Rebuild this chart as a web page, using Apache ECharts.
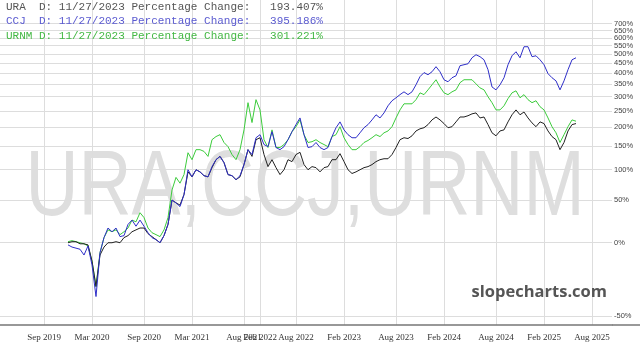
<!DOCTYPE html>
<html>
<head>
<meta charset="utf-8">
<script src="https://cdn.jsdelivr.net/npm/echarts@6/dist/echarts.min.js"></script>
<style>
  html, body { margin: 0; padding: 0; background: #fff; }
  #chart { width: 640px; height: 354px; }
</style>
</head>
<body>
<div id="chart"></div>
<script>
(function(){

  // x axis: one slot per ~2 weeks, first data point sits at slot 17
  var slotCount = 154;
  var firstSlot = 17;
  var tickIndex = [11, 23, 36, 48, 61, 65, 74, 86, 99, 111, 124, 136, 148];
  var tickLabels = ['Sep 2019', 'Mar 2020', 'Sep 2020', 'Mar 2021', 'Aug 2021', 'Feb 2022', 'Aug 2022',
                    'Feb 2023', 'Aug 2023', 'Feb 2024', 'Aug 2024', 'Feb 2025', 'Aug 2025'];

  // y axis tick labels (percentage change, log scale)
  var yTicks = [-50, 0, 50, 100, 150, 200, 250, 300, 350, 400, 450, 500, 550, 600, 650, 700];
  // the 650% label sits too close to 700% for echarts' overlap check, so it goes on a twin axis
  var yTicksTight = [650];

  // percentage change
  var ura = [0,1,1,-1,-1,-2,-16,-34,-11,-4,
    0,0,1,0,5,7,11,13,15,15,
    9,6,3,0,7,19,50,46,43,58,
    96,87,100,96,89,87,104,120,127,114,
    91,89,82,87,110,142,127,166,171,131,
    106,120,104,91,100,120,116,131,136,110,
    100,106,104,96,104,106,120,120,133,116,
    100,93,96,100,104,106,110,116,120,122,
    122,131,147,166,171,169,176,189,195,198,
    207,221,230,221,210,198,201,215,230,230,
    234,240,243,227,230,207,184,176,189,192,
    215,237,253,237,246,227,212,201,215,210,
    189,174,166,142,159,189,207,210];

  var ccj = [-2,-4,-5,-6,-11,-3,-19,-40,-9,5,
    15,11,15,6,7,19,24,17,24,17,
    10,5,3,0,7,19,50,46,41,58,
    100,87,100,96,89,87,106,120,127,114,
    91,89,82,89,110,142,131,171,179,154,
    149,187,147,142,149,166,187,207,227,179,
    147,149,159,147,142,147,174,198,215,192,
    179,171,171,184,198,207,221,237,227,243,
    267,285,296,308,319,308,319,348,384,403,
    393,407,432,407,370,361,379,388,437,442,
    447,479,496,485,468,417,339,327,348,379,
    442,490,513,479,543,543,485,490,468,442,
    398,379,365,327,365,417,468,479];

  var urnm = [1,2,1,0,-1,-3,-16,-34,-9,5,
    13,11,13,8,11,15,24,22,33,27,
    15,10,8,6,13,27,65,86,76,91,
    135,120,142,142,138,127,166,174,179,159,
    149,131,120,142,192,278,213,289,253,166,
    147,192,147,147,154,166,187,201,221,179,
    159,161,166,159,154,149,174,179,201,171,
    154,142,142,149,159,164,171,179,174,184,
    189,201,227,253,274,274,274,289,315,308,
    327,348,370,339,315,308,319,327,357,370,
    370,370,352,335,327,300,278,253,253,267,
    293,315,323,296,308,289,278,285,264,253,
    227,201,184,159,179,201,221,217];

  // percent -> log2 of growth factor, so the value axis behaves like the log scale
  function toLog(p) { return Math.log2(1 + p / 100); }
  function fromLog(v) { return Math.round((Math.pow(2, v) - 1) * 100); }
  function place(arr) {
    var out = [];
    for (var i = 0; i < slotCount; i++) {
      var k = i - firstSlot;
      out.push(k >= 0 && k < arr.length ? toLog(arr[k]) : '-');
    }
    return out;
  }

  var slots = [];
  for (var i = 0; i < slotCount; i++) slots.push(String(i));

  var isTick = function(index) { return tickIndex.indexOf(index) >= 0; };

  var myChart = echarts.init(document.getElementById('chart'));

  var monoStyle = function(color) {
    return { fontFamily: 'Liberation Mono', fontSize: 11, fontWeight: 'normal', color: color };
  };

  var yLabelStyle = function(values) {
    return {
      customValues: values.map(toLog),
      hideOverlap: false,
      showMinLabel: true,
      showMaxLabel: true,
      formatter: function(v) { return fromLog(v) + '%'; },
      fontFamily: 'Liberation Sans',
      fontSize: 7.5,
      color: '#444444',
      margin: 2
    };
  };

  var yMin = toLog(-54.2);
  var yMax = toLog(902);

  var option = {
    animation: false,
    backgroundColor: '#fff',
    title: [
      { text: 'URA  D: 11/27/2023 Percentage Change:   193.407%', left: 6, top: 2, padding: 0, textStyle: monoStyle('#555555') },
      { text: 'CCJ  D: 11/27/2023 Percentage Change:   395.186%', left: 6, top: 16, padding: 0, textStyle: monoStyle('#5a5ad0') },
      { text: 'URNM D: 11/27/2023 Percentage Change:   301.221%', left: 6, top: 31, padding: 0, textStyle: monoStyle('#44b844') }
    ],
    grid: { left: 0, right: 28, top: 0, bottom: 29, containLabel: false },
    graphic: [
      {
        type: 'text', x: 305, y: 189, z: -1, silent: true, scaleX: 0.79,
        style: { text: 'URA,CCJ,URNM', fontFamily: 'Liberation Sans', fontSize: 93,
                 fill: '#dedede', align: 'center', verticalAlign: 'middle' }
      },
      {
        type: 'text', x: 607, y: 292, z: 10, silent: true,
        style: { text: 'slopecharts.com', fontFamily: 'Open Sans', fontWeight: 'bold', fontSize: 16.5,
                 fill: '#555555', align: 'right', verticalAlign: 'middle' }
      },
      {
        type: 'line', silent: true, z: 5,
        shape: { x1: 612, y1: 325, x2: 640, y2: 325 },
        style: { stroke: '#777777', lineWidth: 1.5 }
      }
    ],
    xAxis: {
      type: 'category',
      data: slots,
      boundaryGap: false,
      axisLine: { show: true, onZero: false, lineStyle: { color: '#777777', width: 1.5 } },
      axisTick: { show: false },
      axisLabel: {
        interval: isTick,
        formatter: function(val, index) {
          var k = tickIndex.indexOf(index);
          return k >= 0 ? tickLabels[k] : '';
        },
        fontFamily: 'Liberation Serif',
        fontSize: 9,
        color: '#333333',
        margin: 8
      },
      splitLine: { show: true, interval: isTick, lineStyle: { color: '#dddddd', width: 1 } }
    },
    yAxis: [
      {
        type: 'value',
        position: 'right',
        min: yMin,
        max: yMax,
        axisLine: { show: false },
        axisTick: { show: false, customValues: yTicks.map(toLog) },
        axisLabel: yLabelStyle(yTicks.filter(function(t) { return yTicksTight.indexOf(t) < 0; })),
        splitLine: { show: true, lineStyle: { color: '#dddddd', width: 1 } }
      },
      {
        type: 'value',
        position: 'right',
        min: yMin,
        max: yMax,
        axisLine: { show: false },
        axisTick: { show: false, customValues: yTicksTight.map(toLog) },
        axisLabel: yLabelStyle(yTicksTight),
        splitLine: { show: false }
      }
    ],
    series: [
      { name: 'URA', type: 'line', data: place(ura), showSymbol: false, symbol: 'none',
        lineStyle: { color: '#222222', width: 1 }, itemStyle: { color: '#222222' }, z: 3 },
      { name: 'CCJ', type: 'line', data: place(ccj), showSymbol: false, symbol: 'none',
        lineStyle: { color: '#2f2fc8', width: 1 }, itemStyle: { color: '#2f2fc8' }, z: 4 },
      { name: 'URNM', type: 'line', data: place(urnm), showSymbol: false, symbol: 'none',
        lineStyle: { color: '#3ccc3c', width: 1 }, itemStyle: { color: '#3ccc3c' }, z: 2 }
    ]
  };

  myChart.setOption(option);
  window.addEventListener('resize', function() {
    myChart.resize();
  });
})();
</script>
</body>
</html>
